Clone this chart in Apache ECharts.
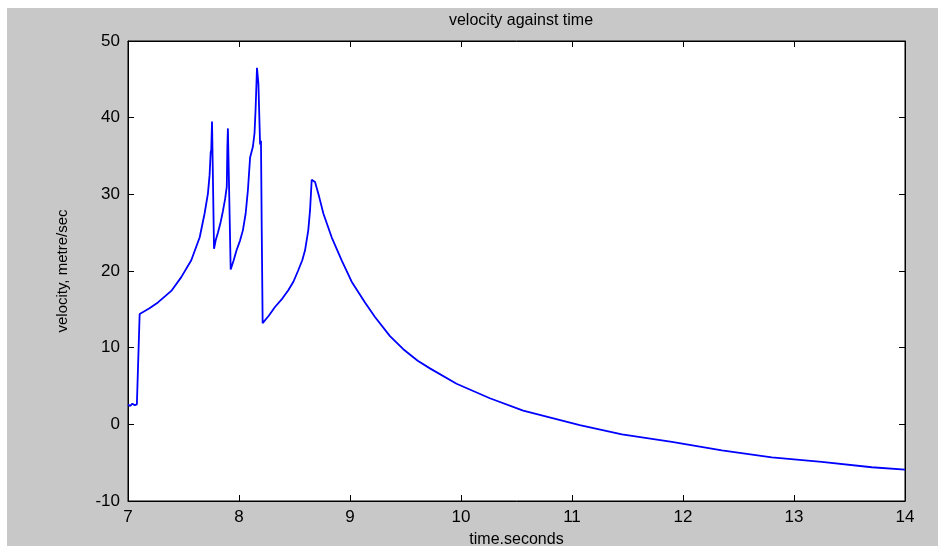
<!DOCTYPE html>
<html>
<head>
<meta charset="utf-8">
<title>velocity against time</title>
<script src="https://cdn.jsdelivr.net/npm/echarts@6/dist/echarts.min.js"></script>
<style>
	body { margin: 0; background: #fff; }
	#chart { position: absolute; left: 7px; top: 8px; width: 931px; height: 538px; background: #c8c8c8; }
</style>
</head>
<body>
<div id="chart"></div>
<script>
// values
var time = [
	7.00, 7.02, 7.04, 7.06, 7.08, 7.095, 7.105, 7.19, 7.27, 7.39,
	7.48, 7.57, 7.646, 7.69, 7.72, 7.735, 7.745, 7.75, 7.757, 7.762,
	7.775, 7.79, 7.81, 7.835, 7.855, 7.875, 7.89, 7.895, 7.90, 7.905,
	7.925, 7.95, 7.978, 8.01, 8.035, 8.06, 8.08, 8.10, 8.115, 8.125,
	8.14, 8.15, 8.162, 8.175, 8.19, 8.198, 8.205, 8.213, 8.27, 8.324,
	8.39, 8.444, 8.49, 8.534, 8.57, 8.595, 8.624, 8.64, 8.655, 8.685,
	8.72, 8.76, 8.835, 8.925, 9.015, 9.135, 9.225, 9.36, 9.48, 9.61,
	9.72, 9.96, 10.26, 10.56, 11.07, 11.45, 11.90, 12.35, 12.80, 13.25,
	13.70, 14.00
];
var velocity = [
	2.6, 2.4, 2.7, 2.5, 2.6, 2.6, 14.4, 15.1, 15.9, 17.4,
	19.2, 21.4, 24.4, 27.5, 30.1, 32.5, 35.5, 35.8, 39.5, 35.0,
	22.9, 24.0, 25.0, 26.4, 27.8, 29.4, 31.0, 36.0, 38.6, 35.0,
	20.2, 21.3, 22.7, 24.0, 25.3, 27.5, 30.5, 34.8, 35.0, 36.2,
	38.0, 41.3, 46.5, 44.4, 36.5, 37.0, 25.1, 13.2, 14.2, 15.3,
	16.4, 17.5, 18.6, 20.1, 21.4, 22.7, 25.3, 27.9, 31.9, 31.6,
	29.8, 27.5, 24.4, 21.4, 18.6, 15.9, 14.0, 11.5, 9.8, 8.3,
	7.3, 5.3, 3.4, 1.8, -0.1, -1.3, -2.3, -3.4, -4.3, -4.9,
	-5.6, -5.9
];
var xTicks = { min: 7, max: 14, step: 1 };
var yTicks = { min: -10, max: 50, step: 10 };

var points = time.map(function (t, i) { return [t, velocity[i]]; });

var font = 'Liberation Sans';

function GenerateChart() {
	var chart = echarts.init(document.getElementById('chart'), null, { renderer: 'canvas' });

	// shared axis look (MATLAB style box, ticks inside)
	var line = { show: true, onZero: false, lineStyle: { color: '#000', width: 1 } };
	var tick = { show: true, inside: true, length: 6, lineStyle: { color: '#000' } };

	chart.setOption({
		animation: false,
		title: {
			text: 'velocity against time',
			left: 509, top: 0, textAlign: 'center',
			textStyle: { fontFamily: font, fontSize: 16, fontWeight: 'normal', color: '#000' }
		},
		grid: {
			left: 121, right: 33, top: 33, bottom: 45,
			outerBoundsMode: 'none', containLabel: false,
			show: true, backgroundColor: '#fff', borderColor: '#000', borderWidth: 1
		},
		xAxis: [{
			type: 'value', min: xTicks.min, max: xTicks.max, interval: xTicks.step,
			axisLine: line, axisTick: tick, splitLine: { show: false },
			axisLabel: { color: '#000', fontFamily: font, fontSize: 17, margin: 8 },
			name: 'time.seconds', nameLocation: 'middle', nameGap: 31,
			nameTextStyle: { color: '#000', fontFamily: font, fontSize: 16 }
		}, {
			type: 'value', position: 'top', min: xTicks.min, max: xTicks.max, interval: xTicks.step,
			axisLine: line, axisTick: tick, axisLabel: { show: false }, splitLine: { show: false }
		}],
		yAxis: [{
			type: 'value', min: yTicks.min, max: yTicks.max, interval: yTicks.step,
			axisLine: line, axisTick: tick, splitLine: { show: false },
			axisLabel: { color: '#000', fontFamily: font, fontSize: 17, margin: 8 },
			name: 'velocity, metre/sec', nameLocation: 'middle', nameGap: 58,
			nameTextStyle: { color: '#000', fontFamily: font, fontSize: 15 }
		}, {
			type: 'value', position: 'right', min: yTicks.min, max: yTicks.max, interval: yTicks.step,
			axisLine: line, axisTick: tick, axisLabel: { show: false }, splitLine: { show: false }
		}],
		series: [{
			name: 'velocity',
			type: 'line',
			data: points,
			showSymbol: false,
			lineStyle: { color: '#0000ff', width: 1.8 }
		}]
	});
}

GenerateChart();
</script>
</body>
</html>
